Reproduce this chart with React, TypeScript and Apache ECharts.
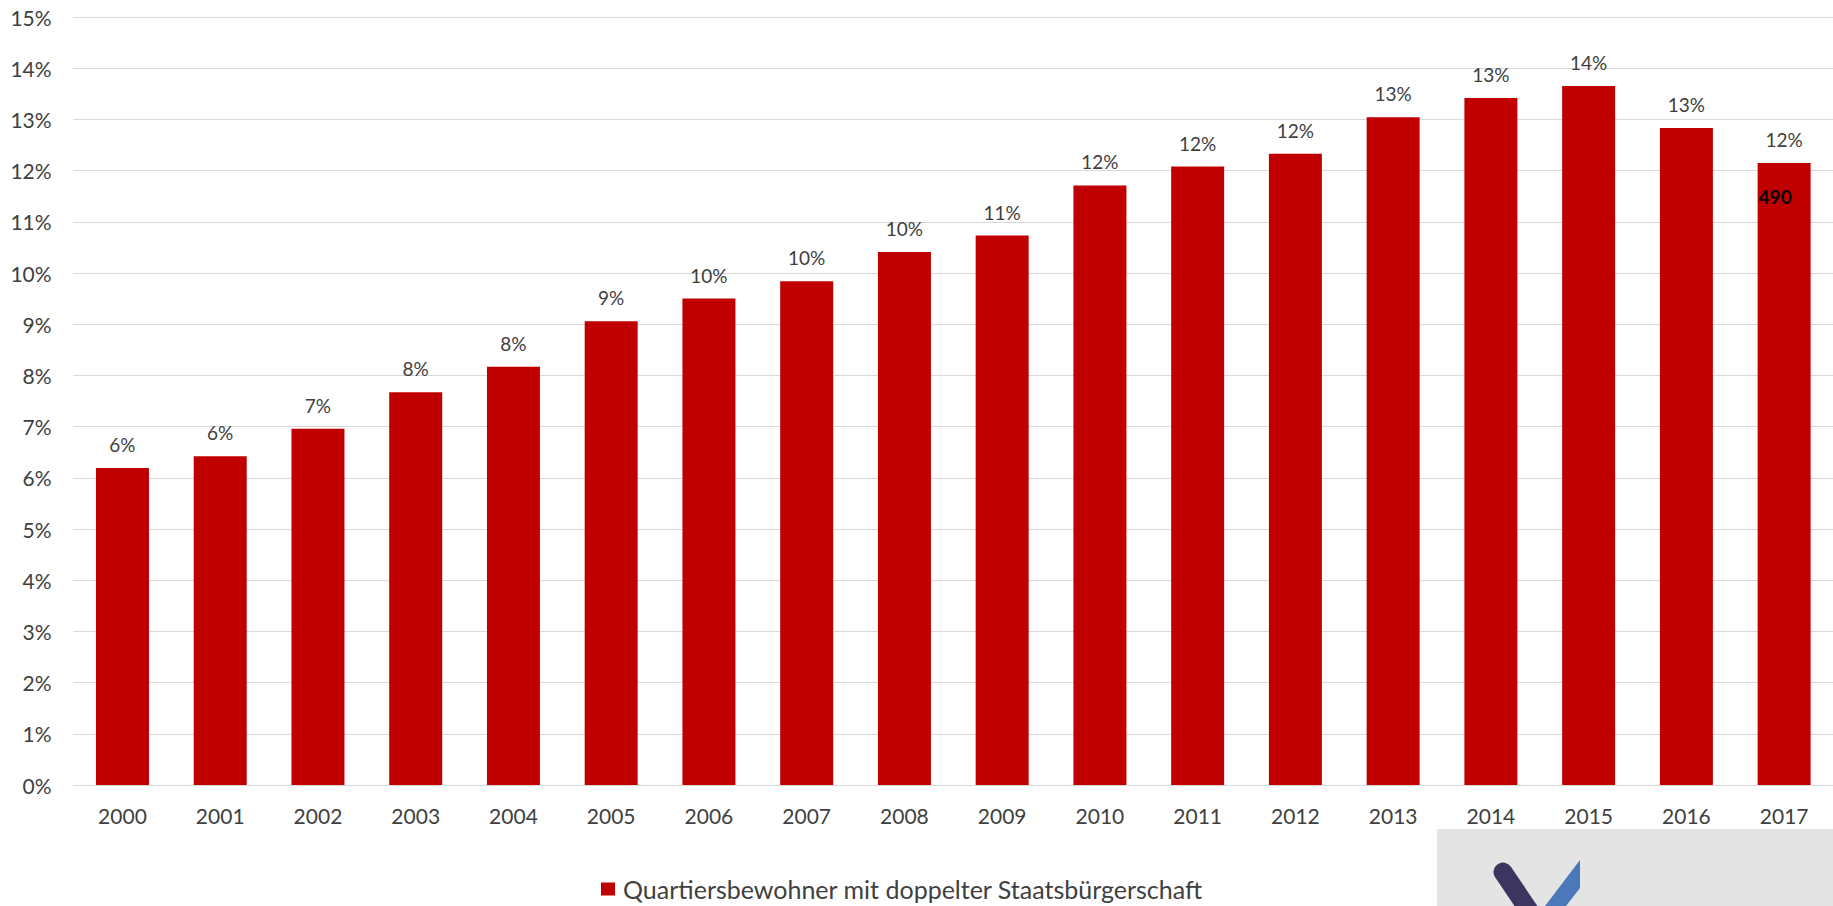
import React, { useEffect, useRef } from "react";
import * as echarts from "echarts";

const years = ["2000","2001","2002","2003","2004","2005","2006","2007","2008","2009","2010","2011","2012","2013","2014","2015","2016","2017"];
const shares = [6.19, 6.42, 6.96, 7.67, 8.17, 9.06, 9.5, 9.84, 10.41, 10.73, 11.71, 12.08, 12.33, 13.04, 13.42, 13.65, 12.83, 12.15];
const seriesName = "Quartiersbewohner mit doppelter Staatsbürgerschaft";
const yTicks = { min: 0, max: 15, interval: 1 };
const noteCategory = "2017";
const noteValue = 11.5;
const noteText = "490";

const FONT = "Lato, 'Open Sans', sans-serif";

export default function App() {
  const ref = useRef<HTMLDivElement>(null);
  useEffect(() => {
    if (!ref.current) return;
    const chart = echarts.init(ref.current, undefined, { renderer: "svg" });
    chart.setOption({
      animation: false,
      backgroundColor: "#ffffff",
      textStyle: { fontFamily: FONT },
      grid: { left: 73.6, right: -3, top: 17, bottom: 121, containLabel: false },
      legend: {
        show: true,
        left: 601,
        top: 875,
        padding: 0,
        itemWidth: 14,
        itemHeight: 13,
        icon: "rect",
        data: [seriesName],
        textStyle: { fontFamily: FONT, fontSize: 25, color: "#404040", lineHeight: 28, padding: [0, 0, 0, 3] },
      },
      xAxis: {
        type: "category",
        data: years,
        axisLine: { show: true, lineStyle: { color: "#d9d9d9", width: 1 } },
        axisTick: { show: false },
        axisLabel: { fontFamily: FONT, fontSize: 21, color: "#404040", margin: 20 },
      },
      yAxis: {
        type: "value",
        min: yTicks.min,
        max: yTicks.max,
        interval: yTicks.interval,
        axisLine: { show: false },
        axisTick: { show: false },
        splitLine: { show: true, lineStyle: { color: "#d9d9d9", width: 1 } },
        axisLabel: { fontFamily: FONT, fontSize: 21, color: "#404040", margin: 22, formatter: (v: number) => `${v}%` },
      },
      series: [
        {
          name: seriesName,
          type: "bar",
          data: shares,
          barWidth: 53,
          itemStyle: { color: "#c00000" },
          label: {
            show: true,
            position: "top",
            distance: 14,
            fontFamily: FONT,
            fontSize: 19,
            color: "#404040",
            formatter: (p: any) => `${Math.round(p.value)}%`,
          },
          markPoint: {
            symbol: "rect",
            symbolSize: 1,
            itemStyle: { color: "rgba(0,0,0,0)" },
            label: {
              show: true,
              position: "inside",
              offset: [-9, 0],
              fontFamily: FONT,
              fontWeight: "bold",
              fontSize: 19,
              color: "#000000",
              formatter: noteText,
            },
            data: [{ coord: [noteCategory, noteValue], value: noteText }],
          },
        },
      ],
      graphic: [
        {
          type: "rect",
          shape: { x: 1437, y: 829, width: 400, height: 80 },
          style: { fill: "#e4e4e4" },
          silent: true,
        },
        {
          type: "line",
          shape: { x1: 1503, y1: 872, x2: 1530, y2: 912 },
          style: { stroke: "#3b3560", lineWidth: 19, lineCap: "round" },
          silent: true,
        },
        {
          type: "polygon",
          shape: { points: [[1580, 860], [1580, 888], [1566, 906], [1545, 906]] },
          style: { fill: "#4a78b8" },
          silent: true,
        },
      ],
    });
    return () => chart.dispose();
  }, []);
  return <div ref={ref} style={{ position: "fixed", left: 0, top: 0, width: 1833, height: 906 }} />;
}
